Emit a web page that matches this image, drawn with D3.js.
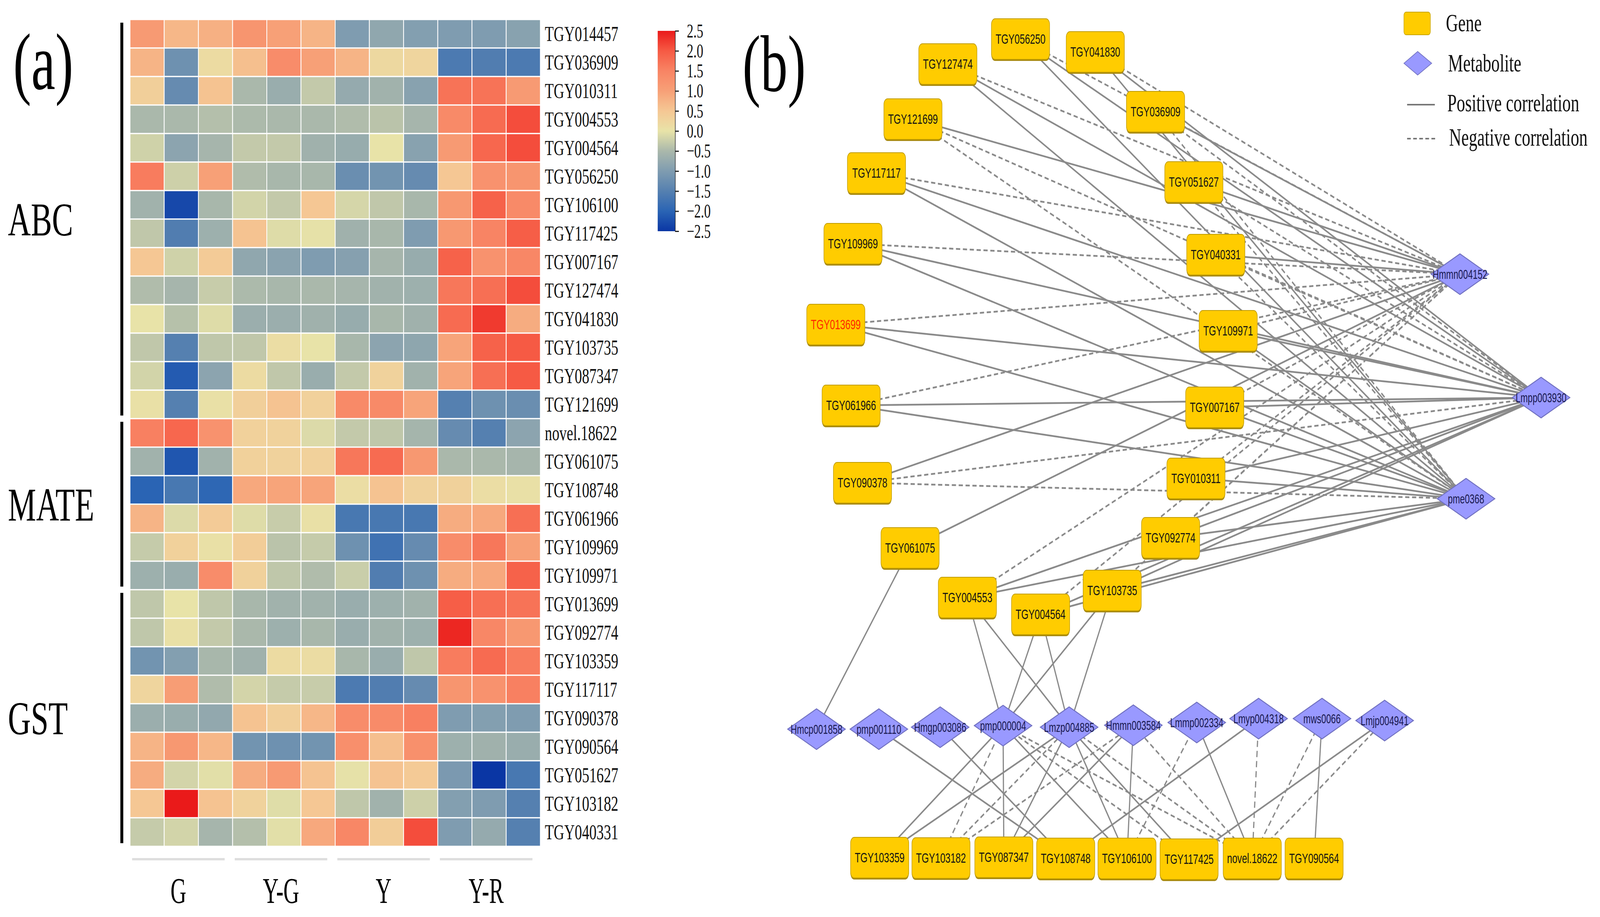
<!DOCTYPE html>
<html>
<head>
<meta charset="utf-8">
<script src="https://cdn.jsdelivr.net/npm/d3@7"></script>
<style>
  html, body { margin: 0; padding: 0; background: #fff; overflow: hidden; width: 100%; height: 100%; }
  svg { display: block; width: 100vw; height: 100vh; }
</style>
</head>
<body>
<script>
// ---------- heatmap data ----------
const stageNames = ['G', 'Y-G', 'Y', 'Y-R'];
const repNames = ['1', '2', '3'];
const groupNames = ['ABC', 'MATE', 'GST'];

const abcGenes = ['TGY014457','TGY036909','TGY010311','TGY004553','TGY004564','TGY056250','TGY106100',
  'TGY117425','TGY007167','TGY127474','TGY041830','TGY103735','TGY087347','TGY121699'];
const mateGenes = ['novel.18622','TGY061075','TGY108748','TGY061966','TGY109969','TGY109971'];
const gstGenes = ['TGY013699','TGY092774','TGY103359','TGY117117','TGY090378','TGY090564',
  'TGY051627','TGY103182','TGY040331'];

const abcValues = [
  [1.1, 0.7, 0.8, 1.2, 1.0, 0.75, -1.0, -0.8, -0.95, -1.0, -1.0, -0.9],
  [0.75, -1.2, 0.15, 0.6, 1.35, 1.0, 0.75, 0.2, 0.25, -1.6, -1.55, -1.6],
  [0.35, -1.3, 0.55, -0.5, -0.7, -0.3, -0.75, -0.6, -0.9, 1.7, 1.7, 1.1],
  [-0.5, -0.5, -0.42, -0.48, -0.5, -0.5, -0.45, -0.37, -0.55, 1.4, 1.8, 2.1],
  [-0.2, -0.85, -0.55, -0.3, -0.3, -0.62, -0.72, 0.0, -0.9, 1.1, 1.85, 2.1],
  [1.6, -0.22, 1.0, -0.45, -0.52, -0.52, -1.25, -1.15, -1.3, 0.5, 1.25, 1.2],
  [-0.6, -2.3, -0.52, -0.18, -0.3, 0.5, -0.15, -0.32, -0.52, 1.15, 1.9, 1.4],
  [-0.32, -1.55, -0.65, 0.55, -0.08, -0.02, -0.62, -0.52, -1.0, 1.15, 1.5, 1.95],
  [0.5, -0.2, 0.42, -0.8, -0.87, -1.0, -0.92, -0.55, -0.72, 1.9, 1.25, 1.45],
  [-0.45, -0.55, -0.27, -0.48, -0.52, -0.5, -0.55, -0.6, -0.65, 1.65, 1.75, 2.1],
  [0.0, -0.4, -0.08, -0.68, -0.68, -0.62, -0.72, -0.52, -0.62, 1.8, 2.25, 0.85],
  [-0.32, -1.5, -0.33, -0.32, 0.1, 0.0, -0.52, -0.85, -0.82, 0.95, 1.9, 2.0],
  [-0.18, -2.1, -0.85, 0.15, -0.32, -0.7, -0.3, 0.3, -0.6, 0.95, 1.75, 2.0],
  [0.05, -1.5, 0.05, 0.35, 0.55, 0.33, 1.4, 1.4, 0.95, -1.5, -1.2, -1.25]
];
const mateValues = [
  [1.55, 1.85, 1.25, 0.33, 0.3, -0.1, -0.3, -0.33, -0.56, -1.3, -1.5, -0.85],
  [-0.6, -2.15, -0.6, 0.33, 0.3, 0.33, 1.65, 1.8, 1.15, -0.5, -0.5, -0.55],
  [-2.0, -1.65, -1.95, 0.9, 0.95, 0.95, 0.1, 0.55, 0.3, 0.32, 0.1, 0.05],
  [0.75, -0.1, 0.42, -0.08, -0.27, 0.05, -1.65, -1.65, -1.65, 0.85, 0.9, 1.75],
  [-0.28, 0.33, 0.05, 0.4, -0.37, -0.28, -1.2, -1.75, -1.3, 1.35, 1.65, 1.0],
  [-0.65, -0.7, 1.35, 0.32, -0.33, -0.45, -0.25, -1.55, -1.2, 0.85, 0.9, 1.9]
];
const gstValues = [
  [-0.33, 0.0, -0.33, -0.52, -0.6, -0.6, -0.7, -0.65, -0.6, 1.95, 1.75, 1.7],
  [-0.33, 0.05, -0.3, -0.5, -0.65, -0.52, -0.7, -0.6, -0.65, 2.4, 1.45, 1.15],
  [-1.15, -0.95, -0.52, -0.62, 0.15, 0.12, -0.52, -0.7, -0.33, 1.6, 1.8, 1.6],
  [0.25, 1.05, -0.45, -0.17, -0.28, -0.27, -1.6, -1.55, -1.3, 1.2, 1.25, 1.55],
  [-0.68, -0.7, -0.78, 0.55, 0.35, 0.7, 1.35, 1.38, 1.55, -1.0, -0.95, -1.0],
  [0.75, 1.15, 0.7, -1.15, -1.2, -1.15, 1.3, 0.6, 1.28, -0.65, -0.62, -0.7],
  [0.85, -0.17, -0.05, 0.85, 1.1, 0.55, -0.02, 0.55, 0.45, -1.05, -2.5, -1.65],
  [0.5, 2.5, 0.55, 0.3, -0.07, 0.5, -0.33, -0.6, -0.22, -0.95, -1.0, -1.5],
  [-0.28, -0.18, -0.55, -0.42, -0.05, 0.9, 1.45, 0.4, 2.1, -1.0, -0.75, -1.5]
];

const legendTicks = [-2.5, -2.0, -1.5, -1.0, -0.5, 0.0, 0.5, 1.0, 1.5, 2.0, 2.5];

// ---------- network data (layout units from the network tool) ----------
const geneNodes = [
  ['TGY056250', 1012, 100], ['TGY041830', 1295, 133], ['TGY127474', 737, 164],
  ['TGY036909', 1523, 286], ['TGY121699', 605, 305], ['TGY117117', 467, 443],
  ['TGY051627', 1668, 466], ['TGY109969', 378, 624], ['TGY040331', 1751, 652],
  ['TGY013699', 313, 831], ['TGY109971', 1798, 847], ['TGY061966', 371, 1038],
  ['TGY007167', 1747, 1043], ['TGY090378', 414, 1236], ['TGY010311', 1676, 1225],
  ['TGY061075', 594, 1403], ['TGY092774', 1580, 1377], ['TGY004553', 811, 1530],
  ['TGY103735', 1359, 1512], ['TGY004564', 1088, 1573],
  ['TGY103359', 479, 2196], ['TGY103182', 711, 2197], ['TGY087347', 949, 2195],
  ['TGY108748', 1183, 2198], ['TGY106100', 1415, 2198], ['TGY117425', 1650, 2200],
  ['novel.18622', 1889, 2198], ['TGY090564', 2123, 2198]
];
const metaboliteNodes = [
  ['Hmmn004152', 2675, 702], ['Lmpp003930', 2982, 1018], ['pme0368', 2698, 1277],
  ['Hmcp001858', 240, 1867], ['pmp001110', 476, 1867], ['Hmgp003086', 708, 1862],
  ['pmp000004', 946, 1858], ['Lmzp004885', 1196, 1862], ['Hmmn003584', 1439, 1857],
  ['Lmmp002334', 1679, 1850], ['Lmyp004318', 1913, 1840], ['mws0066', 2153, 1840],
  ['Lmjp004941', 2390, 1845]
];
const highlightGenes = ['TGY013699'];

// sign of the edge to Hmmn004152, Lmpp003930, pme0368 (1 positive, -1 negative, 0 none)
const hubMetabolites = ['Hmmn004152', 'Lmpp003930', 'pme0368'];
const hubSigns = [
  ['TGY056250', -1, 1, 1], ['TGY041830', -1, 1, 1], ['TGY127474', -1, 1, 1],
  ['TGY036909', 1, -1, -1], ['TGY121699', 1, -1, -1], ['TGY117117', -1, 1, 1],
  ['TGY051627', 1, -1, -1], ['TGY109969', -1, 1, 1], ['TGY040331', 1, -1, -1],
  ['TGY013699', -1, 1, 1], ['TGY109971', -1, 1, 1], ['TGY061966', -1, 1, 1],
  ['TGY007167', -1, 1, 1], ['TGY090378', 1, -1, -1], ['TGY010311', -1, 1, 1],
  ['TGY061075', 1, 0, 0], ['TGY092774', -1, 1, 1], ['TGY004553', -1, 1, 1],
  ['TGY103735', -1, 1, 1], ['TGY004564', -1, 1, 1]
];
const otherEdges = [
  ['Hmcp001858', 'TGY061075', 1],
  ['pmp000004', 'TGY004553', 1], ['Lmzp004885', 'TGY004553', 1],
  ['pmp000004', 'TGY004564', 1], ['Lmzp004885', 'TGY004564', 1],
  ['pmp000004', 'TGY103735', 1], ['Lmzp004885', 'TGY103735', 1],
  ['pmp001110', 'TGY108748', 1], ['Hmgp003086', 'TGY108748', 1],
  ['pmp000004', 'TGY103359', 1], ['pmp000004', 'TGY103182', -1],
  ['pmp000004', 'TGY087347', 1], ['pmp000004', 'TGY106100', 1],
  ['pmp000004', 'TGY117425', -1], ['pmp000004', 'novel.18622', -1],
  ['Lmzp004885', 'TGY103359', 1], ['Lmzp004885', 'TGY103182', -1],
  ['Lmzp004885', 'TGY087347', 1], ['Lmzp004885', 'TGY106100', 1],
  ['Lmzp004885', 'TGY117425', 1], ['Lmzp004885', 'novel.18622', -1],
  ['Hmmn003584', 'TGY087347', 1], ['Hmmn003584', 'TGY106100', 1],
  ['Hmmn003584', 'TGY103182', -1], ['Hmmn003584', 'novel.18622', -1],
  ['Lmmp002334', 'TGY106100', -1], ['Lmmp002334', 'novel.18622', 1],
  ['Lmyp004318', 'TGY108748', 1], ['Lmyp004318', 'novel.18622', -1],
  ['mws0066', 'novel.18622', -1], ['mws0066', 'TGY090564', 1],
  ['Lmjp004941', 'TGY117425', 1], ['Lmjp004941', 'novel.18622', -1]
];

// ---------- drawing ----------
const W = 6055, H = 2348;
const serif = '"Liberation Serif", "Times New Roman", serif';
const sans = '"Liberation Sans", Arial, sans-serif';

// laid out in a 6055 x 2348 frame and fitted to the whole window
const svg = d3.select('body').append('svg')
  .attr('viewBox', `0 0 ${W} ${H}`)
  .attr('preserveAspectRatio', 'none')
  .style('background', '#fff');

// panel (a): heatmap
const rowNames = [...abcGenes, ...mateGenes, ...gstGenes];
const values = [...abcValues, ...mateValues, ...gstValues];
const colNames = stageNames.flatMap(s => repNames.map(r => s + '_' + r));

const x = d3.scaleBand().domain(colNames).range([492, 2045]);
const y = d3.scaleBand().domain(rowNames).range([50, 2167]);
const color = d3.scaleLinear()
  .domain([-2.5, -2, -1.5, -1, -0.5, 0, 0.5, 1, 1.5, 2, 2.5])
  .range(['#0a36a4', '#2a64b4', '#5580b0', '#7f9cb0', '#aab8ab', '#e8e3a8',
          '#f5c794', '#f7a077', '#f88464', '#f65a44', '#ea1a1a']);

const heat = svg.append('g').attr('class', 'heatmap');
const cells = rowNames.flatMap((r, i) => colNames.map((c, j) => ({row: r, col: c, v: values[i][j]})));
heat.selectAll('rect.cell')
  .data(cells)
  .enter().append('rect').attr('class', 'cell')
  .attr('x', d => x(d.col))
  .attr('y', d => y(d.row))
  .attr('width', x.bandwidth())
  .attr('height', y.bandwidth())
  .style('fill', d => color(d.v))
  .style('stroke', '#fff')
  .style('stroke-width', '3px');

heat.selectAll('text.rowlab')
  .data(rowNames)
  .enter().append('text').attr('class', 'rowlab')
  .attr('x', 2062)
  .attr('y', d => y(d) + y.bandwidth() / 2)
  .attr('dominant-baseline', 'central')
  .style('font-family', serif)
  .style('font-size', '55px')
  .style('fill', '#111')
  .text(d => d);

// group brackets and labels on the left
const groups = [abcGenes, mateGenes, gstGenes].map((g, i) => ({name: groupNames[i], first: g[0], last: g[g.length - 1]}));
heat.selectAll('line.bracket')
  .data(groups)
  .enter().append('line').attr('class', 'bracket')
  .attr('x1', 461).attr('x2', 461)
  .attr('y1', d => y(d.first) + 8)
  .attr('y2', d => y(d.last) + y.bandwidth() - 8)
  .style('stroke', '#000')
  .style('stroke-width', '11px');
heat.selectAll('text.grouplab')
  .data(groups)
  .enter().append('text').attr('class', 'grouplab')
  .attr('x', 30)
  .attr('y', d => (y(d.first) + y(d.last) + y.bandwidth()) / 2 + 42)
  .style('font-family', serif)
  .style('font-size', '120px')
  .style('fill', '#000')
  .text(d => d.name);

// stage lines and labels under the heatmap
const stages = stageNames.map(s => {
  const cs = colNames.filter(c => c.startsWith(s + '_'));
  return {name: s, x0: x(cs[0]) + 8, x1: x(cs[cs.length - 1]) + x.bandwidth() - 30};
});
heat.selectAll('line.stage')
  .data(stages)
  .enter().append('line').attr('class', 'stage')
  .attr('x1', d => d.x0).attr('x2', d => d.x1)
  .attr('y1', 2200).attr('y2', 2200)
  .style('stroke', '#dedede')
  .style('stroke-width', '6px');
heat.selectAll('text.stagelab')
  .data(stages)
  .enter().append('text').attr('class', 'stagelab')
  .attr('transform', d => `translate(${(d.x0 + d.x1) / 2},2312) scale(0.88,1)`)
  .attr('text-anchor', 'middle')
  .style('font-family', serif)
  .style('font-size', '94px')
  .style('fill', '#000')
  .text(d => d.name);

// colour bar
const cbY = d3.scaleLinear().domain([-2.5, 2.5]).range([592, 79]);
const grad = svg.append('defs').append('linearGradient')
  .attr('id', 'cbar').attr('x1', 0).attr('x2', 0).attr('y1', 1).attr('y2', 0);
grad.selectAll('stop')
  .data(d3.range(0, 1.0001, 0.05))
  .enter().append('stop')
  .attr('offset', d => d)
  .attr('stop-color', d => color(-2.5 + 5 * d));
svg.append('rect')
  .attr('x', 2489).attr('y', 79)
  .attr('width', 66).attr('height', 513)
  .style('fill', 'url(#cbar)');
const cbAxis = svg.append('g')
  .attr('transform', 'translate(2555,0)')
  .call(d3.axisRight(cbY).tickValues(legendTicks).tickFormat(d3.format('.1f')).tickSize(14).tickPadding(30));
cbAxis.select('.domain').style('stroke', '#222').style('stroke-width', '2px');
cbAxis.selectAll('.tick line').style('stroke', '#222').style('stroke-width', '3px');
cbAxis.selectAll('.tick text')
  .style('font-family', serif)
  .style('font-size', '50px')
  .style('fill', '#111');

svg.append('text')
  .attr('x', 50).attr('y', 228)
  .style('font-family', serif).style('font-size', '205px')
  .text('(a)');

// panel (b): network
const nx = d3.scaleLinear().domain([0, 3200]).range([2850, 6050]);
const ny = d3.scaleLinear().domain([0, 2348]).range([0, 2348]);
const pos = new Map([...geneNodes, ...metaboliteNodes].map(d => [d[0], [nx(d[1]), ny(d[2])]]));

const edges = [];
hubSigns.forEach(row => {
  hubMetabolites.forEach((m, k) => {
    if (row[k + 1] !== 0) edges.push({s: row[0], t: m, sign: row[k + 1]});
  });
});
otherEdges.forEach(e => edges.push({s: e[1], t: e[0], sign: e[2]}));

const net = svg.append('g').attr('class', 'network');
net.selectAll('line.edge')
  .data(edges)
  .enter().append('line').attr('class', 'edge')
  .attr('x1', d => pos.get(d.s)[0]).attr('y1', d => pos.get(d.s)[1])
  .attr('x2', d => pos.get(d.t)[0]).attr('y2', d => pos.get(d.t)[1])
  .style('stroke', '#8a8a8a')
  .style('stroke-width', '4.5px')
  .style('stroke-dasharray', d => d.sign < 0 ? '16,10' : null);

const gW = 220, gH = 104, mW = 218, mH = 104;
const gene = net.selectAll('g.gene')
  .data(geneNodes)
  .enter().append('g').attr('class', 'gene')
  .attr('transform', d => `translate(${nx(d[1])},${ny(d[2])})`);
gene.append('rect')
  .attr('x', -gW / 2).attr('y', -gH / 2 + 4)
  .attr('width', gW).attr('height', gH)
  .attr('rx', 14)
  .style('fill', '#a88a10');
gene.append('rect')
  .attr('x', -gW / 2).attr('y', -gH / 2)
  .attr('width', gW).attr('height', gH)
  .attr('rx', 14)
  .style('fill', '#ffcc00')
  .style('stroke', '#c09c00')
  .style('stroke-width', '2px');
gene.append('text')
  .attr('text-anchor', 'middle')
  .attr('dominant-baseline', 'central')
  .style('font-family', sans)
  .style('font-size', '35px')
  .style('fill', d => highlightGenes.includes(d[0]) ? '#ff2a00' : '#141414')
  .text(d => d[0]);

const metab = net.selectAll('g.metab')
  .data(metaboliteNodes)
  .enter().append('g').attr('class', 'metab')
  .attr('transform', d => `translate(${nx(d[1])},${ny(d[2])})`);
metab.append('polygon')
  .attr('points', `${-mW / 2},0 0,${-mH / 2} ${mW / 2},0 0,${mH / 2}`)
  .style('fill', '#9999ff')
  .style('stroke', '#7070c0')
  .style('stroke-width', '2.5px');
metab.append('text')
  .attr('text-anchor', 'middle')
  .attr('dominant-baseline', 'central')
  .style('font-family', sans)
  .style('font-size', '33px')
  .style('fill', '#1a1a50')
  .text(d => d[0]);

svg.append('text')
  .attr('x', 2810).attr('y', 233)
  .style('font-family', serif).style('font-size', '205px')
  .text('(b)');

// legend
const leg = svg.append('g').attr('class', 'legend');
leg.append('rect')
  .attr('x', 5313).attr('y', 31).attr('width', 100).attr('height', 58).attr('rx', 8)
  .style('fill', '#ffcc00').style('stroke', '#c8a400').style('stroke-width', '2px');
leg.append('polygon')
  .attr('points', '5313,162 5365,132 5418,162 5365,192')
  .style('fill', '#9999ff').style('stroke', '#7070c0').style('stroke-width', '2px');
leg.append('line')
  .attr('x1', 5325).attr('x2', 5430).attr('y1', 268).attr('y2', 268)
  .style('stroke', '#777').style('stroke-width', '4px');
leg.append('line')
  .attr('x1', 5325).attr('x2', 5432).attr('y1', 355).attr('y2', 355)
  .style('stroke', '#777').style('stroke-width', '4px').style('stroke-dasharray', '14,9');
const legText = [['Gene', 5472, 80], ['Metabolite', 5480, 183], ['Positive correlation', 5477, 285], ['Negative correlation', 5484, 373]];
leg.selectAll('text')
  .data(legText)
  .enter().append('text')
  .attr('x', d => d[1]).attr('y', d => d[2])
  .style('font-family', serif)
  .style('font-size', '64px')
  .style('fill', '#111')
  .text(d => d[0]);
</script>
</body>
</html>
